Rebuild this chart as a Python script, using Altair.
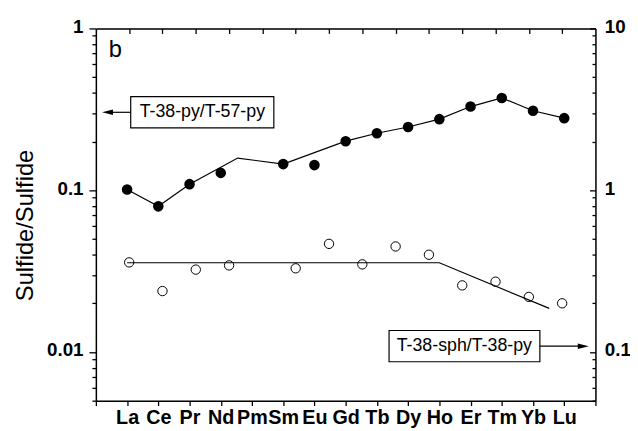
import json
import altair as alt
import pandas as pd

# ---------------- data ----------------
elements = ["La", "Ce", "Pr", "Nd", "Pm", "Sm", "Eu", "Gd", "Tb", "Dy", "Ho", "Er", "Tm", "Yb", "Lu"]

# T-38-py / T-57-py (filled circles, left axis); position on the lower REE axis (La=1 ... Lu=15)
py_pos = [1, 2, 3, 4, 6, 7, 8, 9, 10, 11, 12, 13, 14, 15]
py_val = [0.101, 0.0795, 0.109, 0.128, 0.145, 0.143, 0.201, 0.225, 0.246, 0.275, 0.329, 0.372, 0.310, 0.279]

py_line_pos = [1, 2, 3, 4.54, 6, 8, 9, 10, 11, 12, 13, 14, 15]
py_line_val = [0.101, 0.0795, 0.109, 0.158, 0.145, 0.201, 0.225, 0.246, 0.275, 0.329, 0.372, 0.310, 0.279]

# T-38-sph / T-38-py (open circles, right axis); position on the upper axis
sph_pos = [1, 2, 3, 4, 6, 7, 8, 9, 10, 11, 12, 13, 14]
sph_val = [0.358, 0.238, 0.323, 0.343, 0.329, 0.466, 0.348, 0.449, 0.399, 0.258, 0.272, 0.219, 0.200]

sph_line_pos = [1, 11, 14.52]
sph_line_val = [0.356, 0.356, 0.186]

left_major = [0.01, 0.1, 1]
right_major = [0.1, 1, 10]

# ---------------- styling ----------------
W, H = 506, 377
FONT = "Liberation Sans"
DEC = "abs(log(datum.value)/LN10 - round(log(datum.value)/LN10)) < 0.001"


def minors(lo_exp, hi_exp, lo, hi):
    out = []
    for e in range(lo_exp, hi_exp):
        for m in range(2, 10):
            v = round(m * 10 ** e, 8)
            if lo <= v <= hi:
                out.append(v)
    return out


left_minor = minors(-3, 0, 0.005, 1)
right_minor = minors(-2, 1, 0.05, 10)

SXB = alt.Scale(domain=[0, 16], nice=False, zero=False)
SXT = alt.Scale(domain=[0, 15], nice=False, zero=False)
SYL = alt.Scale(type="log", domain=[0.005, 1], nice=False)
SYR = alt.Scale(type="log", domain=[0.05, 10], nice=False)

AX = dict(domainColor="black", tickColor="black", grid=False, title=None,
          domainWidth=1.5, tickWidth=1.3, labelColor="black")

bottom_axis = alt.Axis(orient="bottom", values=list(range(0, 17)), tickSize=5,
                       labelExpr=json.dumps([""] + elements + [""]) + "[datum.value]",
                       labelFont=FONT, labelFontWeight="bold", labelFontSize=20,
                       labelPadding=2, labelOverlap=False, labelBound=False, labelFlush=False,
                       **AX)
top_axis = alt.Axis(orient="bottom", offset=-H, values=list(range(1, 15)), tickSize=5,
                    labels=False, **AX)
left_axis = alt.Axis(orient="left", values=left_major, tickSize=7,
                     labelExpr=f"{DEC} ? format(datum.value, '~g') : ''",
                     labelFont=FONT, labelFontWeight="bold", labelFontSize=19,
                     labelPadding=6, labelOffset=-2, labelOverlap=False, labelFlush=False,
                     labelBound=False,
                     domainColor="black", tickColor="black", grid=False,
                     domainWidth=1.5, tickWidth=1.3, labelColor="black",
                     title="Sulfide/Sulfide", titleFont=FONT, titleFontSize=24,
                     titleFontWeight="normal", titleColor="black", titleAngle=270,
                     titleX=-64, titleY=199, titleAlign="center", titleBaseline="alphabetic")
left_minor_axis = alt.Axis(orient="left", values=left_minor, tickSize=4, labels=False,
                           domain=False, tickColor="black", tickWidth=1.3, grid=False, title=None)
right_minor_axis = alt.Axis(orient="left", offset=-W, values=right_minor, tickSize=3.5,
                            labels=False, **AX)
right_major_axis = alt.Axis(orient="left", offset=-W, values=right_major, tickSize=6,
                            labels=False, domain=False, tickColor="black", tickWidth=1.3,
                            grid=False, title=None)
right_label_axis = alt.Axis(orient="right", values=right_major, ticks=False, tickSize=0,
                            domain=False, labelExpr="format(datum.value, '~g')",
                            labelFont=FONT, labelFontWeight="bold", labelFontSize=19,
                            labelPadding=9, labelOffset=-2, labelOverlap=False, labelFlush=False,
                            labelBound=False, labelColor="black", grid=False, title=None)

df_py = pd.DataFrame({"pos": py_pos, "ratio": py_val})
df_pyl = pd.DataFrame({"pos": py_line_pos, "ratio": py_line_val})
df_sph = pd.DataFrame({"pos": sph_pos, "ratio": sph_val})
df_sphl = pd.DataFrame({"pos": sph_line_pos, "ratio": sph_line_val})

filled_pts = alt.Chart(df_py).mark_circle(size=115, color="black", opacity=1).encode(
    x=alt.X("pos:Q", scale=SXB, axis=bottom_axis),
    y=alt.Y("ratio:Q", scale=SYL, axis=left_axis),
)
filled_line = alt.Chart(df_pyl).mark_line(color="black", strokeWidth=1.2).encode(
    x=alt.X("pos:Q", scale=SXB, axis=None),
    y=alt.Y("ratio:Q", scale=SYL, axis=left_minor_axis),
)
open_pts = alt.Chart(df_sph).mark_point(shape="circle", filled=False, size=90,
                                        color="black", strokeWidth=1, opacity=1).encode(
    x=alt.X("pos:Q", scale=SXT, axis=top_axis),
    y=alt.Y("ratio:Q", scale=SYR, axis=right_minor_axis),
)
open_line = alt.Chart(df_sphl).mark_line(color="black", strokeWidth=1.2).encode(
    x=alt.X("pos:Q", scale=SXB, axis=None),
    y=alt.Y("ratio:Q", scale=SYR, axis=right_major_axis),
)
right_labels = alt.Chart(df_sphl).mark_point(opacity=0).encode(
    x=alt.X("pos:Q", scale=SXB, axis=None),
    y=alt.Y("ratio:Q", scale=SYR, axis=right_label_axis),
)

DUMMY = alt.Data(values=[{}])


def xd(v):
    return alt.XDatum(v, type="quantitative", scale=SXB, axis=None)


def yd(v):
    return alt.YDatum(v, type="quantitative", scale=SYL, axis=None)


def box(x1, x2, y1, y2):
    return alt.Chart(DUMMY).mark_rect(fill="white", stroke="black", strokeWidth=1.2).encode(
        x=xd(x1), x2=alt.X2Datum(x2), y=yd(y1), y2=alt.Y2Datum(y2))


def label(txt, x, y, size=18, align="center", baseline="middle"):
    return alt.Chart(DUMMY).mark_text(text=txt, font=FONT, fontSize=size, color="black",
                                      align=align, baseline=baseline).encode(x=xd(x), y=yd(y))


def rule(x1, x2, y):
    return alt.Chart(DUMMY).mark_rule(color="black", strokeWidth=1.2).encode(
        x=xd(x1), x2=alt.X2Datum(x2), y=yd(y))


def head(x, y, left=True):
    path = "M-1,0L1,-0.5L1,0.5Z" if left else "M1,0L-1,-0.5L-1,0.5Z"
    return alt.Chart(DUMMY).mark_point(shape=path, filled=True, size=121, color="black",
                                       opacity=1, strokeWidth=0).encode(x=xd(x), y=yd(y))


annotations = [
    box(1.116, 5.70, 0.379, 0.2426),
    label("T-38-py/T-57-py", 3.41, 0.3032),
    rule(0.35, 1.116, 0.3032),
    head(0.373, 0.3032, left=True),
    box(9.39, 14.22, 0.01357, 0.0087),
    label("T-38-sph/T-38-py", 11.80, 0.01086),
    rule(14.22, 15.6, 0.01086),
    head(15.61, 0.01086, left=False),
    label("b", 0.41, 0.665, size=24, align="left", baseline="alphabetic"),
]

chart = alt.layer(
    filled_line, open_line, filled_pts, open_pts, right_labels, *annotations
).resolve_scale(x="independent", y="independent").properties(
    width=W, height=H,
    autosize=alt.AutoSizeParams(type="none"),
    padding={"left": 89, "top": 18, "right": 35, "bottom": 28},
).configure_view(stroke=None).configure(background="white")

chart.save("out.html", embed_options={"renderer": "svg", "actions": False})
